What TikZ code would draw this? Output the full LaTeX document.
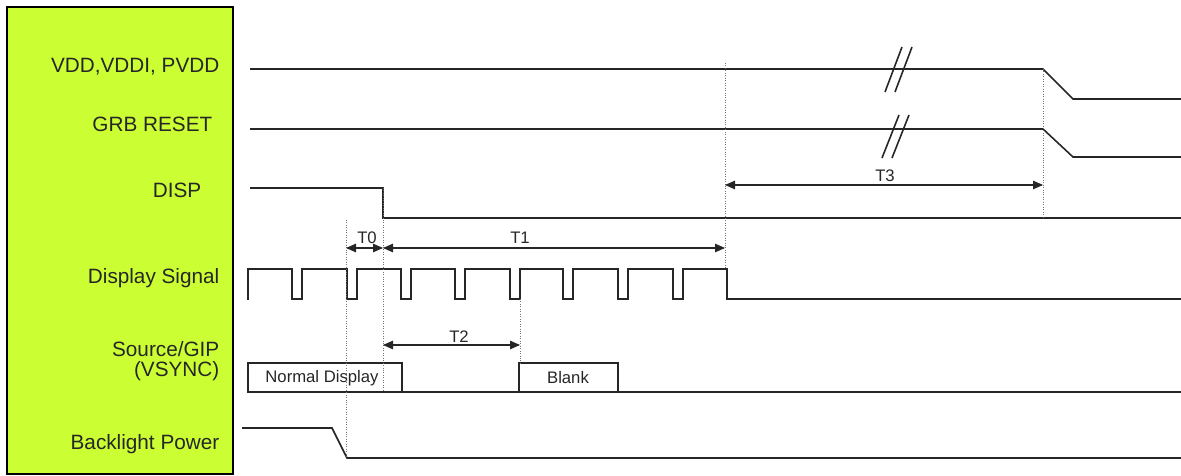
\documentclass[tikz,border=0pt]{standalone}
\usepackage{fontspec}
\setmainfont{Liberation Sans}
\usetikzlibrary{arrows.meta}
\definecolor{lcdGreen}{HTML}{CCFF33}
\definecolor{lcdInk}{HTML}{262626}
\tikzset{
  % one unit = one pixel of the sheet, y pointing down
  every picture/.append style = {line width=0.8pt},
  sig/.style   = {lcdInk, line width=0.9pt},
  guide/.style = {densely dotted, black!55, line width=0.4pt},
  dim/.style   = {{Triangle[length=2mm,width=1.7mm]}-{Triangle[length=2mm,width=1.7mm]},
                  line width=0.6pt, lcdInk},
  lbl/.style   = {font=\fontsize{11.8}{11.2}\selectfont, lcdInk, anchor=east,
                  align=right, inner sep=0pt},
  slbl/.style  = {font=\fontsize{9.5}{11}\selectfont, lcdInk, inner sep=0pt},
  brk/.style   = {lcdInk, line width=0.9pt},
}

\begin{document}
\begin{tikzpicture}[x=0.02cm, y=-0.02cm]
  \useasboundingbox (0,0) rectangle (1181,476);
  % --- signal names -------------------------------------------------------
  \draw[fill=lcdGreen, line width=1.4pt] (7,7) rectangle (233,474);
  \node[lbl] (nVdd)  at (220,67)  {VDD,VDDI, PVDD};
  \node[lbl] (nRst)  at (213,124) {GRB RESET};
  \node[lbl] (nDisp) at (202,190) {DISP};
  \node[lbl] (nSig)  at (220,278) {Display Signal};
  \node[lbl] (nSrc)  at (220,361) {Source/GIP\\(VSYNC)};
  \node[lbl] (nBl)   at (220,444) {Backlight Power};
  % --- supplies and reset -------------------------------------------------
  \draw[sig] (250,69) -- (1043,69) -- (1073,99) -- (1181,99);
  \draw[sig] (250,129) -- (1043,129) -- (1073,157) -- (1181,157);
  \foreach \d in {0,10} {
    \draw[brk] (885+\d,92) -- (902+\d,47);
    \draw[brk] (882+\d,158) -- (899+\d,115);
  }
  % --- DISP -----------------------------------------------------------------
  \draw[sig] (250,188) -- (383,188) -- (383,218) -- (1181,218);
  % --- display signal -------------------------------------------------------
  \draw[sig] (248,300) -- (248,269)
    \foreach \x in {292,347,401,455,510,563,618,673} {
      -- (\x,269) -- (\x,299) -- (\x+10,299) -- (\x+10,269)}
    -- (727,269) -- (727,299) -- (1181,299);
  % --- source / GIP -------------------------------------------------------
  \draw[sig] (248,363) rectangle (402,392);
  \draw[sig] (519,363) rectangle (618,392);
  \draw[sig] (248,392) -- (1181,392);
  \node[slbl] (nNorm)  at (322,378) {Normal Display};
  \node[slbl] (nBlank) at (568,378) {Blank};
  % --- backlight ------------------------------------------------------------
  \draw[sig] (242,428) -- (332,428) -- (347,458) -- (1181,458);
  % --- timing guides --------------------------------------------------------
  \coordinate (gBl0)  at (346,220);  \coordinate (gBl1)  at (346,458);
  \coordinate (gDp0)  at (383,188);  \coordinate (gDp1)  at (383,392);
  \coordinate (gBk0)  at (520,299);  \coordinate (gBk1)  at (520,363);
  \coordinate (gOff0) at (725,63);   \coordinate (gOff1) at (725,269);
  \coordinate (gPw0)  at (1043,69);  \coordinate (gPw1)  at (1043,218);
  \foreach \g in {Bl,Dp,Bk,Off,Pw} \draw[guide] (g\g0) -- (g\g1);
  % --- intervals ------------------------------------------------------------
  \coordinate (a0) at (346,248);  \coordinate (a1) at (383,248);
  \coordinate (a2) at (725,248);
  \coordinate (b0) at (383,345);  \coordinate (b1) at (520,345);
  \coordinate (c0) at (725,185);  \coordinate (c1) at (1043,185);
  \draw[dim] (a0) -- (a1);
  \draw[dim] (a1) -- (a2);
  \draw[dim] (b0) -- (b1);
  \draw[dim] (c0) -- (c1);
  \node[slbl] (lT0) at (367,238) {T0};
  \node[slbl] (lT1) at (520,238) {T1};
  \node[slbl] (lT2) at (459,337) {T2};
  \node[slbl] (lT3) at (885,176) {T3};
\end{tikzpicture}
\end{document}
